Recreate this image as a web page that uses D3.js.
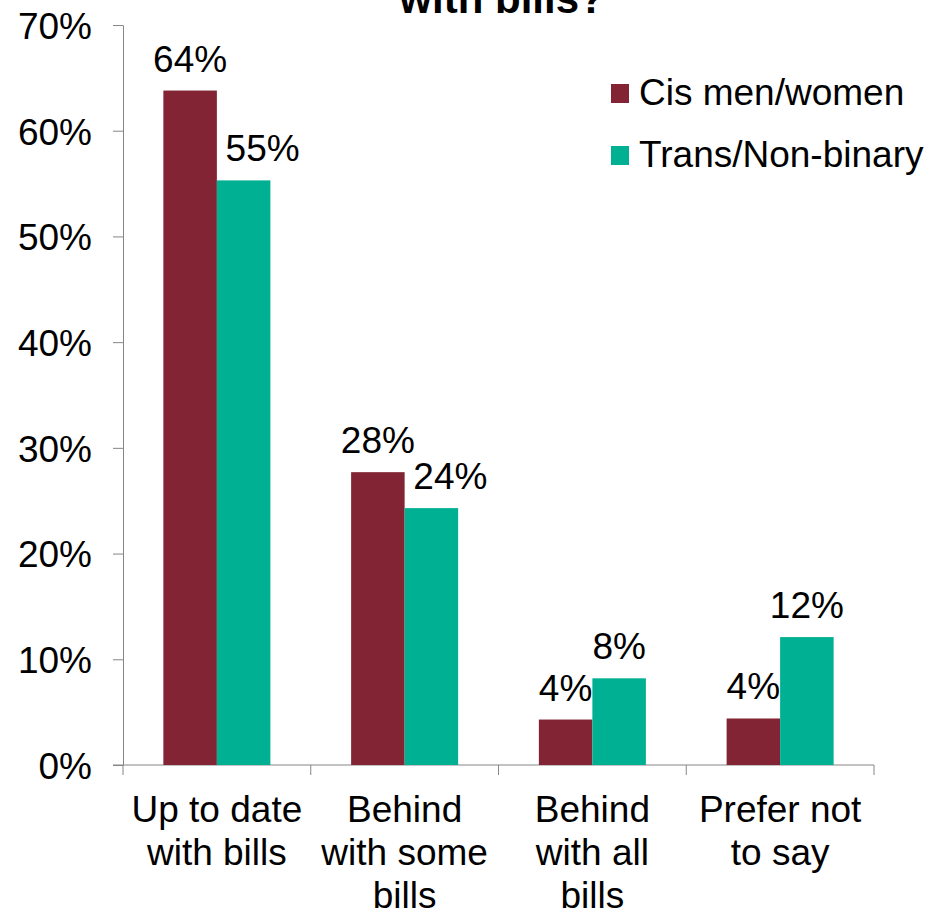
<!DOCTYPE html>
<html>
<head>
<meta charset="utf-8">
<script src="https://cdn.jsdelivr.net/npm/d3@7"></script>
<style>
  body { margin: 0; background: #fff; }
  svg { display: block; font-family: 'Liberation Sans', Arial, sans-serif; }
  .axis path, .axis line { stroke: #868686; }
</style>
</head>
<body>
<svg width="943" height="909"></svg>
<script>
const CATEGORIES = [
  ['Up to date', 'with bills'],
  ['Behind', 'with some', 'bills'],
  ['Behind', 'with all', 'bills'],
  ['Prefer not', 'to say']
]
const SERIES = ['Cis men/women', 'Trans/Non-binary']
const CIS = [0.638, 0.277, 0.043, 0.044]
const TRANS = [0.553, 0.243, 0.082, 0.121]
const LABELS_CIS = ['64%', '28%', '4%', '4%']
const LABELS_TRANS = ['55%', '24%', '8%', '12%']
const Y_TICKS = [0, 0.1, 0.2, 0.3, 0.4, 0.5, 0.6, 0.7]
const COLORS = ['#822433', '#00B092']

const svg = d3.select('svg')
const plotLeft = 123
const plotRight = 874
const plotTop = 25
const plotBottom = 765
const fontSize = 37

const keys = CATEGORIES.map((c, i) => i)
const x = d3.scaleBand().domain(keys).range([plotLeft, plotRight])
  .paddingInner(0.43).paddingOuter(0.215)
const xs = d3.scaleBand().domain([0, 1]).range([0, x.bandwidth()])
const y = d3.scaleLinear().domain([0, 0.7]).range([plotBottom, plotTop])
const step = x.step()

// title (first line falls outside the picture)
svg.append('text')
  .attr('x', 502)
  .attr('y', 13)
  .attr('text-anchor', 'middle')
  .attr('font-size', 42)
  .attr('font-weight', 'bold')
  .text('with bills?')

// y axis
const yAxis = svg.append('g')
  .attr('class', 'axis')
  .attr('transform', `translate(${plotLeft},0)`)
  .call(d3.axisLeft(y).tickValues(Y_TICKS).tickFormat(d3.format('.0%'))
    .tickSize(10).tickSizeOuter(0).tickPadding(21))
yAxis.selectAll('text')
  .attr('font-size', fontSize)
  .attr('fill', '#000')
  .attr('font-family', 'Liberation Sans, Arial, sans-serif')
  .attr('dy', '0.36em')

// x axis line with ticks at category boundaries
const xAxis = svg.append('g').attr('class', 'axis')
xAxis.append('line')
  .attr('x1', plotLeft - 10).attr('x2', plotRight)
  .attr('y1', plotBottom).attr('y2', plotBottom)
const bounds = keys.map(k => x(k) - step * x.paddingInner() / 2)
  .concat([x(keys.length - 1) + x.bandwidth() + step * x.paddingInner() / 2])
xAxis.selectAll('.tick')
  .data(bounds)
  .enter().append('line')
  .attr('x1', d => d).attr('x2', d => d)
  .attr('y1', plotBottom).attr('y2', plotBottom + 10)

// category labels
const cat = svg.append('g')
  .selectAll('text')
  .data(CATEGORIES)
  .enter().append('text')
  .attr('text-anchor', 'middle')
  .attr('font-size', fontSize)
  .attr('transform', (d, i) => `translate(${x(i) + x.bandwidth() / 2},822)`)
cat.selectAll('tspan')
  .data(d => d)
  .enter().append('tspan')
  .attr('x', 0)
  .attr('y', (d, i) => i * 43)
  .text(d => d)

// bars
const groups = svg.append('g')
  .selectAll('g')
  .data(keys)
  .enter().append('g')
  .attr('transform', i => `translate(${x(i)},0)`)

const rows = i => [
  { s: 0, v: CIS[i], label: LABELS_CIS[i], dx: 0 },
  { s: 1, v: TRANS[i], label: LABELS_TRANS[i], dx: TRANS[i] < CIS[i] ? 19 : 0 }
]

groups.selectAll('rect')
  .data(rows)
  .enter().append('rect')
  .attr('x', d => xs(d.s))
  .attr('y', d => y(d.v))
  .attr('width', xs.bandwidth())
  .attr('height', d => plotBottom - y(d.v))
  .attr('fill', d => COLORS[d.s])

groups.selectAll('text')
  .data(rows)
  .enter().append('text')
  .attr('x', d => xs(d.s) + xs.bandwidth() / 2 + d.dx)
  .attr('y', d => y(d.v) - 19)
  .attr('text-anchor', 'middle')
  .attr('font-size', fontSize)
  .text(d => d.label)

// legend
const legend = svg.append('g')
  .selectAll('g')
  .data(SERIES)
  .enter().append('g')
  .attr('transform', (d, i) => `translate(611,${84 + i * 62})`)
legend.append('rect')
  .attr('width', 18).attr('height', 19)
  .attr('fill', (d, i) => COLORS[i])
legend.append('text')
  .attr('x', 28).attr('y', 21)
  .attr('font-size', fontSize)
  .text(d => d)
</script>
</body>
</html>
